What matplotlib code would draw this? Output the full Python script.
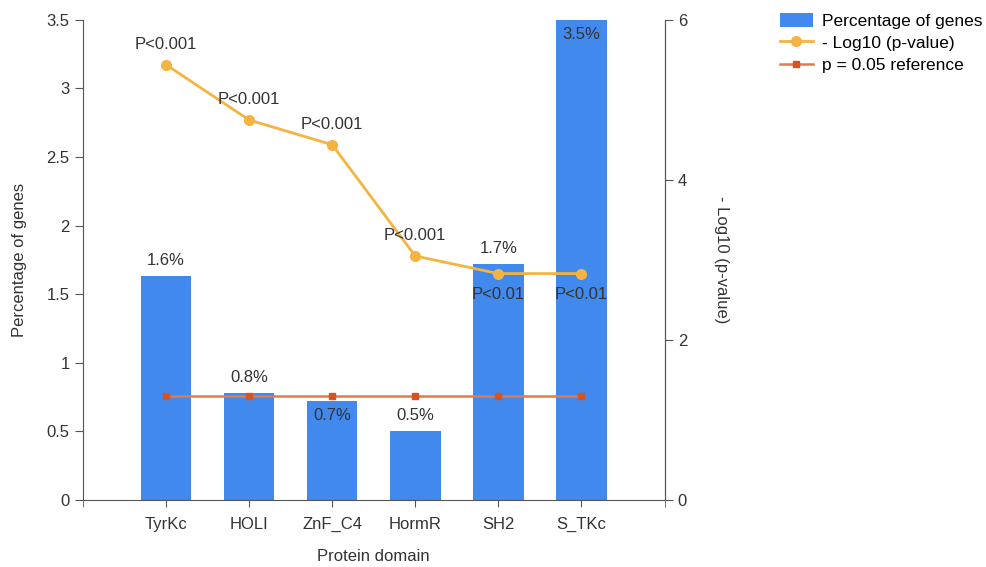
import numpy as np
import matplotlib.pyplot as plt

plt.rcParams['font.family'] = ['Liberation Sans', 'DejaVu Sans']

# domain data
domains = ["TyrKc", "HOLI", "ZnF_C4", "HormR", "SH2", "S_TKc"]
pct_genes = [1.63, 0.78, 0.72, 0.50, 1.72, 3.50]
neg_log_p = [5.44, 4.75, 4.44, 3.05, 2.83, 2.83]
p_labels = ["P<0.001", "P<0.001", "P<0.001", "P<0.001", "P<0.01", "P<0.01"]
ref_line = [-np.log10(0.05)] * len(domains)

bar_col = "#4189ec"
line_col = "#f5b342"
ref_col = "#d9531e"
txt_col = "#333333"
axis_col = "#555555"

fig = plt.figure(figsize=(9.86, 5.67), dpi=100)
ax = fig.add_axes([0.084, 0.118, 0.59, 0.847])
ax2 = ax.twinx()

x = np.arange(len(domains))
bars = ax.bar(x, pct_genes, width=0.61, color=bar_col, label="Percentage of genes", zorder=1)
ax.set_xlim(-1, 6)
ax.set_ylim(0, 3.5)
ax.set_yticks(np.arange(0, 3.51, 0.5))
ax.set_yticklabels(["0", "0.5", "1", "1.5", "2", "2.5", "3", "3.5"])
ax.set_xticks(x)
ax.set_xticklabels(domains)
ax.set_xticks([-1, 6], minor=True)

ln1, = ax2.plot(x, neg_log_p, color=line_col, lw=2, marker="o", ms=7, label="- Log10 (p-value)", zorder=3)
ln2, = ax2.plot(x, ref_line, color="#e07a50", lw=1.8, marker="s", ms=5,
                mfc=ref_col, mec=ref_col, label="p = 0.05 reference", zorder=3)
ax2.set_ylim(0, 6)
ax2.set_yticks([0, 2, 4, 6])

# bar value labels
for i, v in enumerate(pct_genes):
    s = "%.1f%%" % v
    if i == 2 or v > 3.4:
        ax.text(i, v - 0.05, s, ha="center", va="top", fontsize=12, color=txt_col)
    else:
        ax.text(i, v + 0.06, s, ha="center", va="bottom", fontsize=12, color=txt_col)

# p-value labels
for i, (v, s) in enumerate(zip(neg_log_p, p_labels)):
    if s == "P<0.01":
        ax2.text(i, v - 0.17, s, ha="center", va="top", fontsize=12, color=txt_col, zorder=4)
    else:
        ax2.text(i, v + 0.16, s, ha="center", va="bottom", fontsize=12, color=txt_col, zorder=4)

for a in (ax, ax2):
    a.spines["top"].set_visible(False)
    for sp in a.spines.values():
        sp.set_color(axis_col)
    a.tick_params(which="both", colors=axis_col, labelcolor=txt_col, labelsize=12, length=6)
ax2.spines["left"].set_visible(False)
ax2.spines["bottom"].set_visible(False)
ax.tick_params(axis="x", which="both", length=5, pad=7)

ax.set_xlabel("Protein domain", fontsize=12, color=txt_col, labelpad=12)
ax.set_ylabel("Percentage of genes", fontsize=12, color=txt_col, labelpad=14)
ax2.set_ylabel("- Log10 (p-value)", fontsize=12, color=txt_col, rotation=270, labelpad=30)

fig.legend(handles=[bars, ln1, ln2], loc="upper left", bbox_to_anchor=(0.784, 0.99),
           frameon=False, fontsize=12.5, handlelength=1.9, handleheight=0.9, handletextpad=0.5,
           labelspacing=0.35, borderaxespad=0)

fig.savefig("out.png", dpi=100)
